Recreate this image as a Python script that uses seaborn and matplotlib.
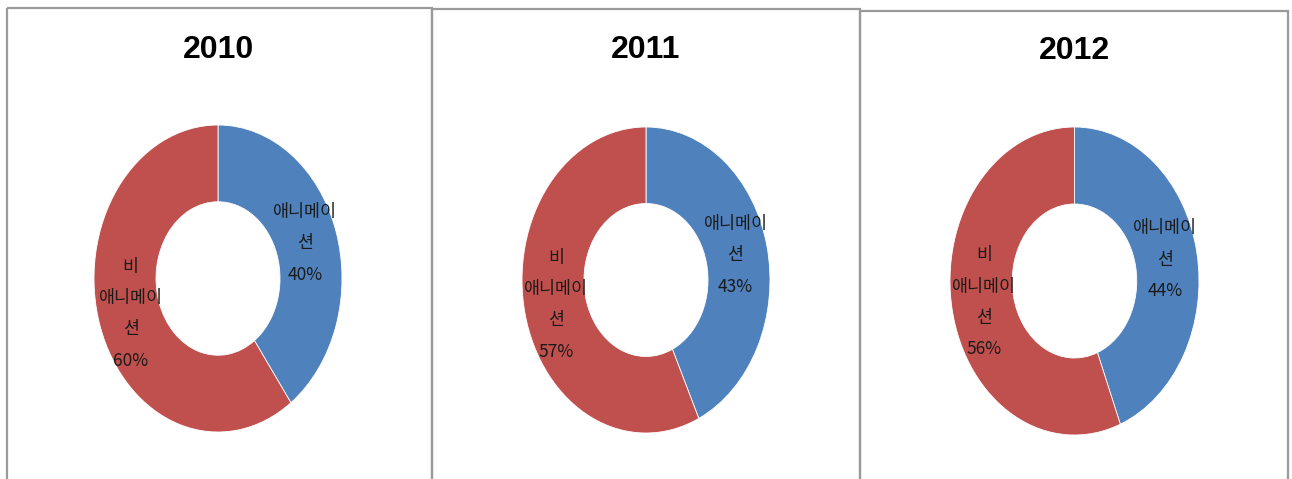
import matplotlib
matplotlib.use("Agg")
import matplotlib.pyplot as plt
import seaborn as sns
from matplotlib.patches import Rectangle

# ----------------------------------------------------------
# Data: share of animation vs non-animation, per year
# ----------------------------------------------------------
years = ["2010", "2011", "2012"]
animation = [40, 43, 44]
non_animation = [60, 57, 56]
category_labels = ["애니메이\n션", "비\n애니메이\n션"]

sns.set_theme(style="white")
plt.rcParams["font.family"] = ["Noto Sans CJK KR", "DejaVu Sans"]

colors = ["#4F81BD", "#C0504D"]

W, H = 1292, 479
fig = plt.figure(figsize=(W / 100, H / 100), dpi=100)

# background axes in pixel coordinates for panel frames and titles
bg = fig.add_axes([0, 0, 1, 1])
bg.set_xlim(0, W)
bg.set_ylim(H, 0)
bg.axis("off")

# panel frames (left, top, right) and donut geometry (cx, cy, rx, ry)
panels = [(7, 8, 432), (432, 8.5, 860), (860, 11, 1288)]
donuts = [(218, 278.5, 124, 153.5), (646, 280, 124, 153), (1074.5, 281, 124.5, 154)]
title_y = [50, 50, 51]

for (left, top, right) in panels:
    bg.add_patch(Rectangle((left, top), right - left, H + 20 - top,
                           fill=False, edgecolor="#9a9a9a", linewidth=1.6))

lim = 1.05
for i, year in enumerate(years):
    cx, cy, rx, ry = donuts[i]
    w_px, h_px = 2 * lim * rx, 2 * lim * ry
    ax = fig.add_axes([(cx - w_px / 2) / W, 1 - (cy + h_px / 2) / H, w_px / W, h_px / H])
    vals = [animation[i], non_animation[i]]
    labels = [f"{category_labels[0]}\n{vals[0]}%", f"{category_labels[1]}\n{vals[1]}%"]
    wedges, texts = ax.pie(
        vals,
        labels=labels,
        colors=colors,
        startangle=90,
        counterclock=False,
        labeldistance=0.74,
        wedgeprops=dict(width=0.5, edgecolor="white", linewidth=0.6),
        textprops=dict(fontsize=12.5, color="#1a1a1a"),
    )
    for t in texts:
        t.set_horizontalalignment("center")
        t.set_verticalalignment("center")
        t.set_linespacing(1.95)
    ax.set_xlim(-lim, lim)
    ax.set_ylim(-lim, lim)
    ax.set_aspect("auto")
    ax.axis("off")

    bg.text(cx, title_y[i], year, ha="center", va="center", fontsize=23,
            fontweight="bold", color="black",
            family=["Liberation Sans Narrow", "Liberation Sans", "DejaVu Sans"])

fig.savefig("out.png", dpi=100)
